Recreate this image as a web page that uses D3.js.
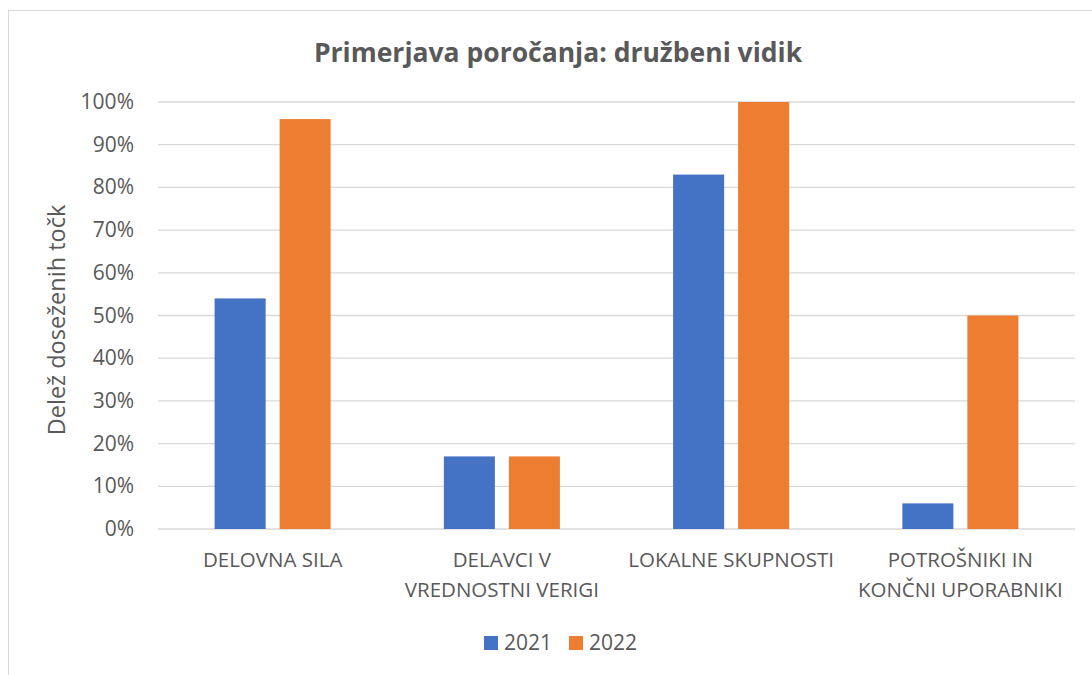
<!DOCTYPE html>
<html>
<head>
<meta charset="utf-8">
<script src="https://cdn.jsdelivr.net/npm/d3@7"></script>
<style>
  body { margin: 0; background: #fff; }
  svg text { font-family: "Open Sans", sans-serif; fill: #595959; }
</style>
</head>
<body>
<svg id="chart" width="1092" height="675"></svg>
<script>
const categories = [
    ["DELOVNA SILA"],
    ["DELAVCI V", "VREDNOSTNI VERIGI"],
    ["LOKALNE SKUPNOSTI"],
    ["POTROŠNIKI IN", "KONČNI UPORABNIKI"]
];
const seriesNames = ["2021", "2022"];
const values2021 = [0.54, 0.17, 0.83, 0.06];
const values2022 = [0.96, 0.17, 1.00, 0.50];
const colors = ["#4472C4", "#ED7D31"];
const yTicks = [0, 0.1, 0.2, 0.3, 0.4, 0.5, 0.6, 0.7, 0.8, 0.9, 1.0];

const svg = d3.select("#chart");
const plot = { left: 158, right: 1075, top: 102, bottom: 529 };

// chart border
svg.append("rect")
    .attr("x", 8.5).attr("y", 10.5)
    .attr("width", 1100).attr("height", 700)
    .attr("fill", "none")
    .attr("stroke", "#d9d9d9")
    .attr("stroke-width", 1);

const x = d3.scaleBand()
    .domain(d3.range(categories.length))
    .range([plot.left, plot.right]);

const inner = d3.scaleBand()
    .domain(seriesNames)
    .range([56.6, x.bandwidth() - 56.6])
    .paddingInner(0.215);

const y = d3.scaleLinear().domain([0, 1]).range([plot.bottom, plot.top]);

// gridlines
svg.append("g")
    .selectAll("line")
    .data(yTicks)
    .enter()
    .append("line")
    .attr("x1", plot.left).attr("x2", plot.right)
    .attr("y1", d => y(d)).attr("y2", d => y(d))
    .attr("stroke", "#d9d9d9")
    .attr("stroke-width", 1.3);

// y tick labels
svg.append("g")
    .selectAll("text")
    .data(yTicks)
    .enter()
    .append("text")
    .attr("x", 134)
    .attr("y", d => y(d) + 7)
    .attr("text-anchor", "end")
    .style("font-size", "21px")
    .text(d => d3.format(".0%")(d));

// bars
const series = [values2021, values2022];
series.forEach((vals, s) => {
    svg.append("g")
        .selectAll("rect")
        .data(vals)
        .enter()
        .append("rect")
        .attr("x", (d, i) => x(i) + inner(seriesNames[s]))
        .attr("width", inner.bandwidth())
        .attr("y", d => y(d))
        .attr("height", d => y(0) - y(d))
        .attr("fill", colors[s]);
});

// category labels
const catLabels = svg.append("g")
    .selectAll("text")
    .data(categories)
    .enter()
    .append("text")
    .attr("text-anchor", "middle")
    .style("font-size", "20.5px");

catLabels.selectAll("tspan")
    .data((d, i) => d.map(line => ({ line: line, i: i })))
    .enter()
    .append("tspan")
    .attr("x", d => x(d.i) + x.bandwidth() / 2)
    .attr("y", (d, j) => 567 + j * 30)
    .text(d => d.line);

// title
svg.append("text")
    .attr("x", 558)
    .attr("y", 62)
    .attr("text-anchor", "middle")
    .style("font-size", "26.5px")
    .style("font-weight", "bold")
    .text("Primerjava poročanja: družbeni vidik");

// axis title
svg.append("text")
    .attr("transform", "translate(65, 320) rotate(-90)")
    .attr("text-anchor", "middle")
    .style("font-size", "23.5px")
    .text("Delež doseženih točk");

// legend
const legend = svg.append("g");
const legendX = [484, 569];
seriesNames.forEach((name, i) => {
    legend.append("rect")
        .attr("x", legendX[i]).attr("y", 636)
        .attr("width", 14).attr("height", 14)
        .attr("fill", colors[i]);
    legend.append("text")
        .attr("x", legendX[i] + 20)
        .attr("y", 650)
        .style("font-size", "21px")
        .text(name);
});
</script>
</body>
</html>
